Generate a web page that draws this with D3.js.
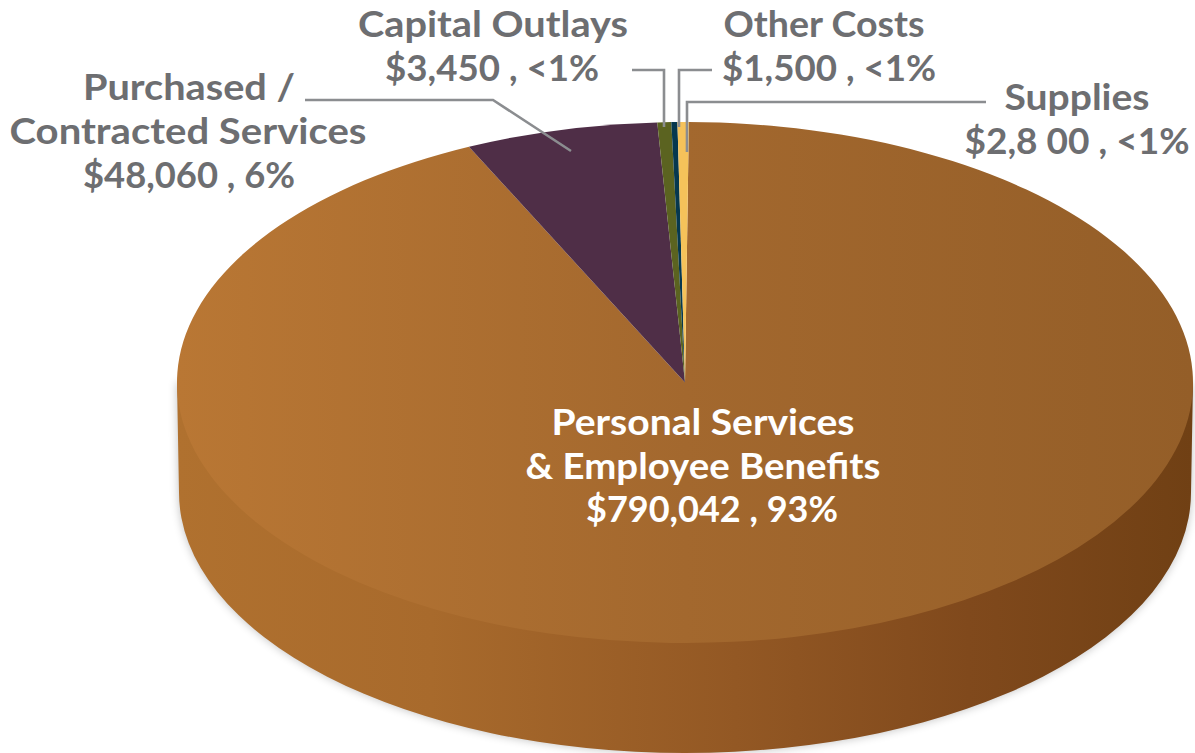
<!DOCTYPE html>
<html>
<head>
<meta charset="utf-8">
<style>
  html, body { margin: 0; padding: 0; background: #fff; overflow: hidden; }
  text { font-family: Lato, "Open Sans", sans-serif; font-weight: 700; }
</style>
<script src="https://cdn.jsdelivr.net/npm/d3@7/dist/d3.min.js"></script>
</head>
<body>
<svg id="chart" width="1195" height="753"></svg>
<script>
// General fund spending by category, clockwise from just right of 12 o'clock.
const categories = ["Personal Services & Employee Benefits", "Purchased / Contracted Services", "Capital Outlays", "Other Costs", "Supplies"];
const amounts = [790042, 48060, 3450, 1500, 2800];
const sliceColors = ["url(#faceFill)", "#4f2e47", "#5b6320", "#06384f", "#f5c25a"];

// Label text, line by line, with the centre x, baseline y and drawn width of each line.
const labelLines = [
  { t: "Capital Outlays", x: 493, y: 37, w: 270 },
  { t: "$3,450 , <1%", x: 492, y: 81, w: 214 },
  { t: "Purchased /", x: 189, y: 100, w: 212 },
  { t: "Contracted Services", x: 188, y: 144, w: 357 },
  { t: "$48,060 , 6%", x: 189, y: 188, w: 212 },
  { t: "Other Costs", x: 824, y: 37, w: 201 },
  { t: "$1,500 , <1%", x: 829, y: 81, w: 214 },
  { t: "Supplies", x: 1077, y: 110, w: 145 },
  { t: "$2,8 00 , <1%", x: 1077, y: 154, w: 225 },
  { t: "Personal Services", x: 703, y: 435, w: 303, fill: "#fff" },
  { t: "& Employee Benefits", x: 703, y: 479, w: 355, fill: "#fff" },
  { t: "$790,042 , 93%", x: 712, y: 522, w: 252, fill: "#fff" }
];

// Elbowed leader lines from the outside labels to their slices.
const leaders = [
  [[305, 100], [493, 100], [571, 151]],
  [[632, 70], [664, 70], [664, 127]],
  [[712, 70], [679, 70], [679, 127]],
  [[986, 102], [687, 102], [687, 152]]
];

const cx = 685, cy = 382.5, rx = 508, ry = 260.5;
const depth = 110, baseRx = 506;

const svg = d3.select("#chart");
const defs = svg.append("defs");

function hGradient(id, x0, x1, stops) {
  const g = defs.append("linearGradient").attr("id", id)
    .attr("gradientUnits", "userSpaceOnUse")
    .attr("x1", x0).attr("x2", x1).attr("y1", 0).attr("y2", 0);
  stops.forEach(([o, c]) => g.append("stop").attr("offset", o).attr("stop-color", c));
}
// The face gradient lives in the slice group's local coordinates.
hGradient("faceFill", -rx, rx, [[0, "#b97734"], [0.5, "#a3682e"], [1, "#945e28"]]);
hGradient("sideShade", cx - rx, cx + rx, [[0, "#b0712f"], [0.25, "#a86a2c"], [0.55, "#935824"], [0.78, "#80491c"], [1, "#704014"]]);

defs.append("filter").attr("id", "softEdge")
  .attr("x", "-5%").attr("y", "-5%").attr("width", "110%").attr("height", "110%")
  .append("feGaussianBlur").attr("stdDeviation", 5);

// Disc wall: the lower half of the base ellipse joined to the face's widest points.
const wallPath = `M${cx - rx},${cy} L${cx - baseRx},${cy + depth} ` +
  `A${baseRx},${ry} 0 0 0 ${cx + baseRx},${cy + depth} L${cx + rx},${cy} Z`;

svg.append("path").attr("d", wallPath)
  .attr("fill", "#000").attr("opacity", 0.25).attr("filter", "url(#softEdge)");
svg.append("path").attr("d", wallPath).attr("fill", "url(#sideShade)");

// Slices end at the top of the disc; the tilt opens angles slightly near the far rim.
const deg = Math.PI / 180;
const pie = d3.pie().sort(null).startAngle(0.4 * deg).endAngle(360.4 * deg);
const tilt = a => a + 0.08 * Math.sin(a);
const arc = d3.arc().innerRadius(0).outerRadius(rx)
  .startAngle(d => tilt(d.startAngle))
  .endAngle(d => tilt(d.endAngle));

svg.append("g")
  .attr("transform", `translate(${cx},${cy}) scale(1,${ry / rx})`)
  .selectAll("path")
  .data(pie(amounts))
  .join("path")
  .attr("d", arc)
  .attr("fill", (d, i) => sliceColors[i])
  .append("title").text((d, i) => categories[i]);

// Leaders
const line = d3.line();
svg.append("g").selectAll("path")
  .data(leaders)
  .join("path")
  .attr("d", line)
  .attr("fill", "none")
  .attr("stroke", "#8b8d90")
  .attr("stroke-width", 2.6);

// Labels
svg.append("g").selectAll("text")
  .data(labelLines)
  .join("text")
  .attr("x", d => d.x)
  .attr("y", d => d.y)
  .attr("text-anchor", "middle")
  .attr("font-size", 36)
  .attr("textLength", d => d.w)
  .attr("lengthAdjust", "spacingAndGlyphs")
  .attr("fill", d => d.fill || "#6d6e71")
  .text(d => d.t);
</script>
</body>
</html>
